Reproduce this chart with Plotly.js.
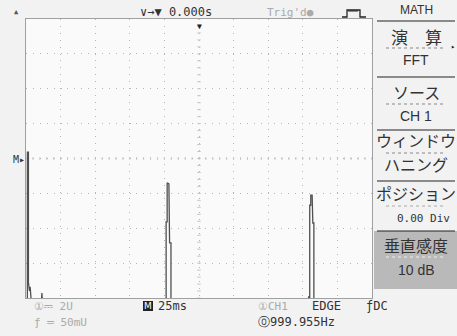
<!DOCTYPE html>
<html><head><meta charset="utf-8">
<script src="https://cdn.plot.ly/plotly-3.0.1.min.js"></script>
<style>html,body{margin:0;padding:0;background:#f2f2f2;}#c{width:457px;height:336px;}</style>
</head><body><div id="c"></div>
<script>
// FFT spectrum trace, in screen divisions (x: 0..10, y: 0..8)
const specX = [0, 0.04, 0.04, 0.07, 0.07, 0.10, 0.12, 0.14, 0.16, 0.44, 0.46, 0.48,
  4.05, 4.05, 4.08, 4.08, 4.13, 4.15, 4.19, 4.19,
  8.15, 8.17, 8.19, 8.20, 8.20, 8.23, 8.23, 8.27, 8.29, 8.32, 8.32, 10];
const specY = [-0.2, -0.2, 4.18, 4.18, 0.45, 0.2, 0.32, 0.05, -0.2, -0.2, 0.14, -0.2,
  -0.2, 2.18, 2.18, 3.30, 3.27, 1.58, 1.58, -0.2,
  -0.2, 0.05, -0.2, -0.2, 2.66, 2.66, 2.95, 2.95, 2.15, 2.15, -0.2, -0.2];

const menuTitle = "MATH";
const menuItems = [["演　算", "FFT"], ["ソース", "CH 1"], ["ウィンドウ", "ハニング"], ["ポジション", "0.00 Div"], ["垂直感度", "10 dB"]];
const timebase = "25ms";
const trigPos = "0.000s";
const freqRead = "999.955Hz";

// pixel -> paper helpers (plot area: x 26..372, y 19..298)
const L = 26, R = 372, T = 19, B = 298;
const X = px => (px - L) / (R - L);
const Y = py => (B - py) / (B - T);

const mono = "DejaVu Sans Mono";
const jp = "Noto Sans CJK JP";
const dark = "#333", light = "#aaa";

const ann = [];
function txt(text, px, py, size, color, family, xanchor) {
  ann.push({text, x: X(px), y: Y(py), xref: "paper", yref: "paper", showarrow: false,
    xanchor: xanchor || "center", yanchor: "middle",
    font: {size, color: color || dark, family: family || mono}});
}
// top bar
txt("▲", 16, 12, 7, "#555");
txt("∨→▼ " + trigPos, 176, 12, 12, dark);
txt("Trig'd●", 290, 12, 11, light);
txt("▼", 199, 26, 8, "#222");
// left marker
txt("M▸", 19, 159, 10, dark);
// menu
txt(menuTitle, 416, 10, 12, dark, "Liberation Sans");
const rowY = [[36, 60], [92, 116], [140, 164], [193, 218], [245, 270]];
menuItems.forEach((m, i) => {
  txt(m[0], 416, rowY[i][0], i === 0 ? 17 : 16, dark, jp);
  if (i === 3) txt(m[1], 452, rowY[i][1], 11, dark, mono, "right");
  else if (i === 2) txt(m[1], 416, rowY[i][1], 16, dark, jp);
  else txt(m[1], 416, rowY[i][1], 14, dark, "Liberation Sans");
});
txt("▸", 453, 47, 7, "#222");
// bottom
txt("①⎓ 2U", 32, 306, 11, light, mono, "left");
txt("ƒ ═ 50mU", 32, 322, 11, light, mono, "left");
txt("M", 148, 306, 9, "#fff", "DejaVu Sans", "center");
txt(timebase, 156, 306, 12, dark, mono, "left");
txt("①CH1", 256, 306, 11, light, mono, "left");
txt("EDGE", 310, 306, 12, dark, mono, "left");
txt("ƒDC", 364, 306, 12, dark, mono, "left");
txt("⓪" + freqRead, 256, 322, 12, dark, mono, "left");

const shapes = [];
// M badge
shapes.push({type: "rect", xref: "paper", yref: "paper", x0: X(143), x1: X(153), y0: Y(311), y1: Y(301), fillcolor: "#222", line: {width: 0}, layer: "below"});
// center crosshair tick marks
for (let i = 0; i <= 50; i++) shapes.push({type: "line", xref: "x", yref: "y", x0: i * 0.2, x1: i * 0.2, y0: 3.96, y1: 4.04, line: {color: "#c4c4c4", width: 1}});
for (let i = 0; i <= 40; i++) shapes.push({type: "line", xref: "x", yref: "y", x0: 4.95, x1: 5.05, y0: i * 0.2, y1: i * 0.2, line: {color: "#c4c4c4", width: 1}});
// menu panel
shapes.push({type: "rect", xref: "paper", yref: "paper", x0: X(374), x1: X(457), y0: Y(289), y1: Y(231), fillcolor: "#b9b9b9", line: {width: 0}, layer: "below"});
[21, 77, 130, 181, 231].forEach(py => shapes.push({type: "line", xref: "paper", yref: "paper", x0: X(377), x1: X(455), y0: Y(py), y1: Y(py), line: {color: "#222", width: 1.2}}));
[[48, "#888"], [104, "#888"], [153, "#888"], [206, "#aaa"], [257, "#eee"]].forEach(d => shapes.push({type: "line", xref: "paper", yref: "paper", x0: X(386), x1: X(446), y0: Y(d[0]), y1: Y(d[0]), line: {color: d[1], width: 1, dash: "dot"}}));
// pulse icon
shapes.push({type: "path", xref: "paper", yref: "paper",
  path: `M ${X(342)} ${Y(17)} L ${X(347)} ${Y(17)} L ${X(347)} ${Y(10)} L ${X(360)} ${Y(10)} L ${X(360)} ${Y(17)} L ${X(366)} ${Y(17)}`,
  line: {color: "#222", width: 1.3}});
for (let px = 349; px <= 358; px += 2) shapes.push({type: "line", xref: "paper", yref: "paper", x0: X(px), x1: X(px), y0: Y(10), y1: Y(12), line: {color: "#222", width: 1}});

const data = [{x: specX, y: specY, type: "scatter", mode: "lines", line: {color: "#505050", width: 1.3}, hoverinfo: "skip"}];

const ax = {showticklabels: false, ticks: "", zeroline: false, showgrid: true, gridcolor: "#b5b5b5", griddash: "1px,5.9px", gridwidth: 1,
  showline: true, mirror: true, linecolor: "#a0a0a0", linewidth: 1, fixedrange: true};
const layout = {
  width: 457, height: 336, margin: {l: L, r: 457 - R, t: T, b: 336 - B},
  paper_bgcolor: "#f2f2f2", plot_bgcolor: "#fafafa", showlegend: false,
  xaxis: Object.assign({}, ax, {range: [0, 10], dtick: 1}),
  yaxis: Object.assign({}, ax, {range: [0, 8], dtick: 1}),
  annotations: ann, shapes: shapes
};
Plotly.newPlot("c", data, layout, {staticPlot: true, displayModeBar: false});
</script></body></html>
